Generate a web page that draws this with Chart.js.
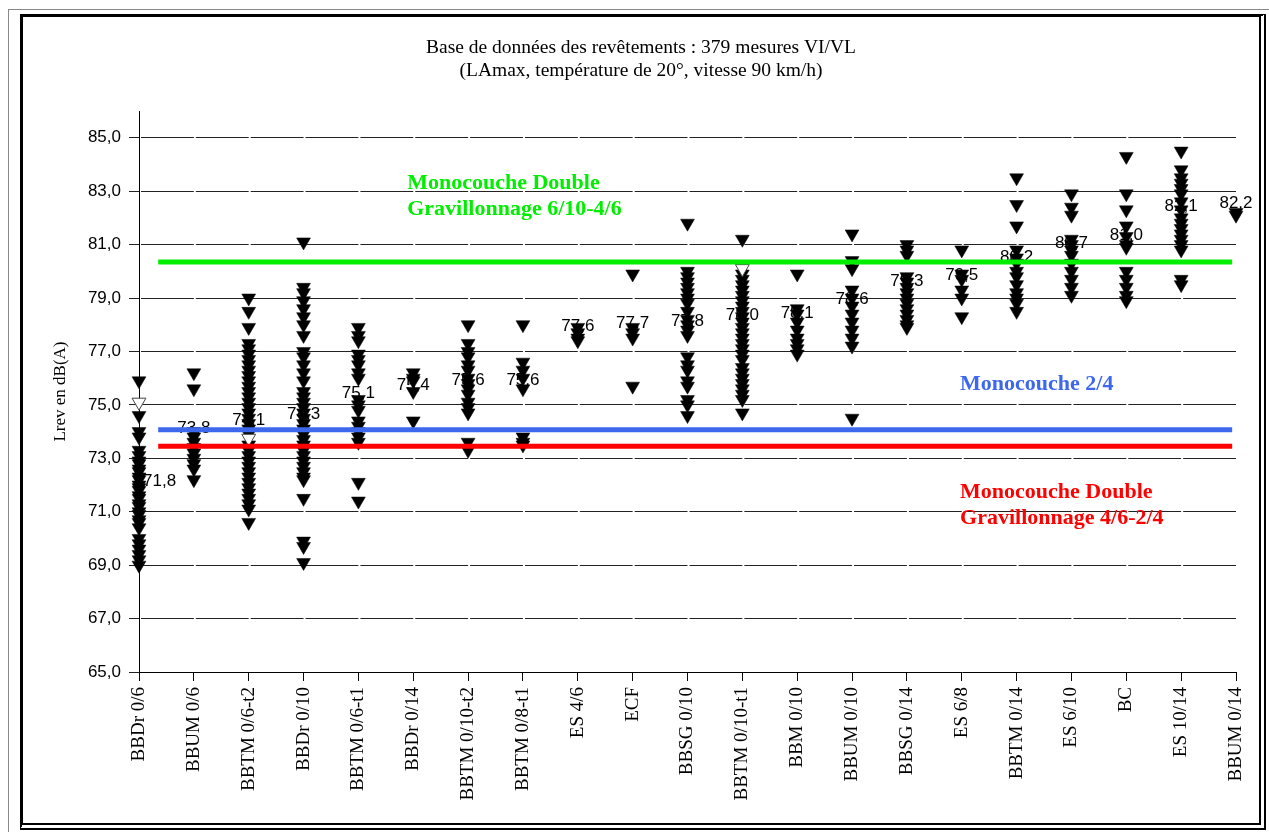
<!DOCTYPE html>
<html>
<head>
<meta charset="utf-8">
<script src="https://cdn.jsdelivr.net/npm/chart.js@4.4.0/dist/chart.umd.min.js"></script>
<style>
  html, body { margin: 0; padding: 0; background: #fff; overflow: hidden; }
  #cadre-ext { position: absolute; left: 8px; top: 9px; width: 1300px; height: 900px; border-left: 1px solid #888; border-top: 1px solid #888; }
  #cadre { position: absolute; left: 20px; top: 14px; width: 1236px; height: 806px; border-top: 3px solid #000; border-left: 3px solid #000; border-right: 7px double #000; border-bottom: 7px double #000; background: #fff; }
  #graphique { position: absolute; left: 0; top: 0; }
</style>
</head>
<body>
<div id="cadre-ext"></div>
<div id="cadre"></div>
<canvas id="graphique" width="1269" height="832"></canvas>
<script>
// revêtements (axe des x)
const categories = ["BBDr 0/6", "BBUM 0/6", "BBTM 0/6-t2", "BBDr 0/10", "BBTM 0/6-t1", "BBDr 0/14",
    "BBTM 0/10-t2", "BBTM 0/8-t1", "ES 4/6", "ECF", "BBSG 0/10", "BBTM 0/10-t1", "BBM 0/10",
    "BBUM 0/10", "BBSG 0/14", "ES 6/8", "BBTM 0/14", "ES 6/10", "BC", "ES 10/14", "BBUM 0/14"];

// mesures Lrev en dB(A), une liste par revêtement
const mesures = [
    [75.9, 74.6, 74.0, 73.8, 73.3, 73.1, 72.9, 72.8, 72.6, 72.5, 72.3, 72.2, 72.0, 71.9, 71.8, 71.6, 71.5, 71.3, 71.2, 71.0, 70.9, 70.7, 70.6, 70.4, 70.0, 69.8, 69.6, 69.4, 69.2, 69.0],
    [76.2, 75.6, 74.0, 73.8, 73.6, 73.4, 73.2, 73.0, 72.8, 72.6, 72.2],
    [79.0, 78.5, 77.9, 77.3, 77.1, 76.9, 76.7, 76.5, 76.3, 76.1, 75.9, 75.7, 75.5, 75.3, 75.1, 74.9, 74.7, 74.5, 74.3, 74.1, 73.9, 73.5, 73.3, 73.1, 72.9, 72.7, 72.5, 72.3, 72.1, 71.9, 71.7, 71.5, 71.3, 71.1, 70.6],
    [81.1, 79.4, 79.2, 78.9, 78.6, 78.3, 78.0, 77.6, 77.0, 76.8, 76.5, 76.2, 75.9, 75.5, 75.3, 75.1, 74.9, 74.7, 74.5, 74.3, 74.1, 73.9, 73.7, 73.5, 73.3, 73.1, 72.9, 72.7, 72.5, 72.3, 72.2, 71.5, 69.9, 69.7, 69.1],
    [77.9, 77.6, 77.4, 76.9, 76.7, 76.5, 76.2, 76.0, 75.2, 75.0, 74.8, 74.4, 74.2, 74.0, 73.8, 73.6, 72.1, 71.4],
    [76.2, 76.0, 75.9, 75.5, 74.4],
    [78.0, 77.3, 77.0, 76.8, 76.5, 76.3, 76.0, 75.8, 75.6, 75.4, 75.1, 74.9, 74.7, 73.6, 73.3],
    [78.0, 76.6, 76.3, 76.0, 75.6, 73.8, 73.6, 73.5],
    [77.9, 77.7, 77.5, 77.4],
    [79.9, 77.9, 77.7, 77.5, 75.7],
    [81.8, 80.0, 79.8, 79.6, 79.4, 79.2, 79.0, 78.8, 78.5, 78.2, 78.0, 77.8, 77.6, 76.8, 76.5, 76.3, 75.9, 75.7, 75.2, 75.0, 74.6],
    [81.2, 79.9, 79.7, 79.5, 79.3, 79.1, 78.9, 78.7, 78.5, 78.3, 78.1, 77.9, 77.7, 77.5, 77.3, 77.1, 76.9, 76.7, 76.4, 76.2, 76.0, 75.8, 75.6, 75.4, 75.2, 74.7],
    [79.9, 78.6, 78.4, 78.1, 77.8, 77.5, 77.3, 77.1, 76.9],
    [81.4, 80.4, 80.1, 79.3, 79.0, 78.7, 78.4, 78.1, 77.8, 77.5, 77.2, 74.5],
    [81.0, 80.8, 80.6, 79.8, 79.6, 79.4, 79.2, 79.0, 78.8, 78.6, 78.4, 78.2, 78.0, 77.9],
    [80.8, 79.9, 79.7, 79.3, 79.0, 78.3],
    [83.5, 82.5, 81.7, 80.8, 80.5, 80.3, 80.0, 79.8, 79.5, 79.2, 79.0, 78.8, 78.5],
    [82.9, 82.4, 82.1, 81.2, 81.0, 80.8, 80.6, 80.3, 80.0, 79.7, 79.4, 79.1],
    [84.3, 82.9, 82.3, 81.7, 81.3, 81.0, 80.9, 80.0, 79.7, 79.4, 79.1, 78.9],
    [84.5, 83.8, 83.5, 83.3, 83.1, 82.9, 82.6, 82.3, 82.0, 81.8, 81.6, 81.4, 81.2, 81.0, 80.8, 79.7, 79.5],
    [82.2, 82.1]
];

// points en triangle blanc : [indice du revêtement, valeur]
const mesuresOuvertes = [[0, 75.1], [2, 73.75], [11, 80.1]];

// moyennes affichées au-dessus des colonnes
const moyennes = [71.8, 73.8, 74.1, 74.3, 75.1, 75.4, 75.6, 75.6, 77.6, 77.7, 77.8, 78.0, 78.1, 78.6, 79.3, 79.5, 80.2, 80.7, 81.0, 82.1, 82.2];

// graduations de l'axe des y
const yTicks = [65, 67, 69, 71, 73, 75, 77, 79, 81, 83, 85];

// niveaux de référence
const refNoms = [["Monocouche Double", "Gravillonnage 6/10-4/6"], ["Monocouche 2/4"], ["Monocouche Double", "Gravillonnage 4/6-2/4"]];
const refValeurs = [80.35, 74.07, 73.45];

const couleursRef = ["#00ee00", "#3d68ee", "#ff0000"];

function virgule(v) {
    return v.toFixed(1).replace(".", ",");
}

const pointsPleins = [];
mesures.forEach((serie, i) => {
    serie.forEach(v => pointsPleins.push({ x: i, y: v }));
});
const pointsOuverts = mesuresOuvertes.map(p => ({ x: p[0], y: p[1] }));

// lignes de référence dessinées au-dessus des points
const datasetsRef = refValeurs.map((v, i) => ({
    type: "line",
    data: [{ x: 0.35, y: v }, { x: 19.93, y: v }],
    borderColor: couleursRef[i],
    borderWidth: 5,
    pointRadius: 0,
    fill: false
}));

const etiquettes = {
    id: "etiquettes",
    beforeDatasetsDraw(chart) {
        const { ctx, scales: { x, y } } = chart;
        ctx.save();
        ctx.font = '17px "Liberation Sans"';
        ctx.fillStyle = "#000";
        ctx.textBaseline = "middle";
        moyennes.forEach((m, i) => {
            const px = x.getPixelForValue(i);
            const py = y.getPixelForValue(m) - 9;
            if (i === 0) {
                ctx.textAlign = "left";
                ctx.fillText(virgule(m), px + 4, py);
            } else {
                ctx.textAlign = "center";
                ctx.fillText(virgule(m), px, py);
            }
        });
        ctx.restore();
    },
    afterDatasetsDraw(chart) {
        const { ctx, scales: { x, y } } = chart;
        ctx.save();
        ctx.font = 'bold 22px "Liberation Serif"';
        ctx.textAlign = "left";
        ctx.textBaseline = "middle";
        // texte vert au-dessus de sa ligne, bleu au-dessus, rouge en dessous
        const places = [{ xi: 4.89, dy: -79 }, { xi: 14.97, dy: -45 }, { xi: 14.97, dy: 46 }];
        refNoms.forEach((lignes, i) => {
            ctx.fillStyle = couleursRef[i];
            const px = x.getPixelForValue(places[i].xi);
            const py = y.getPixelForValue(refValeurs[i]) + places[i].dy;
            lignes.forEach((t, k) => ctx.fillText(t, px, py + k * 26));
        });
        ctx.restore();
    }
};

new Chart(document.getElementById("graphique"), {
    type: "scatter",
    data: {
        datasets: [
            ...datasetsRef,
            {
                data: pointsOuverts,
                pointStyle: "triangle",
                rotation: 180,
                pointRadius: 8,
                backgroundColor: "#fff",
                borderColor: "#444",
                borderWidth: 1,
                clip: false
            },
            {
                data: pointsPleins,
                pointStyle: "triangle",
                rotation: 180,
                pointRadius: 8,
                backgroundColor: "#000",
                borderColor: "#000",
                borderWidth: 0.5,
                clip: false
            }
        ]
    },
    options: {
        responsive: false,
        animation: false,
        layout: { padding: { left: 46, right: 33, top: 0, bottom: 0 } },
        plugins: {
            legend: { display: false },
            tooltip: { enabled: false },
            title: {
                display: true,
                text: ["Base de données des revêtements : 379 mesures VI/VL", "(LAmax, température de 20°, vitesse 90 km/h)"],
                color: "#000",
                font: { family: "Liberation Serif", size: 19.5, weight: "normal", lineHeight: 1.18 },
                padding: { top: 36, bottom: 29 }
            }
        },
        scales: {
            x: {
                type: "linear",
                min: 0,
                max: 20,
                afterFit(scale) {
                    scale.height = 160;
                    scale.paddingLeft = 0;
                    scale.paddingRight = 0;
                },
                ticks: {
                    stepSize: 1,
                    autoSkip: false,
                    maxRotation: 90,
                    minRotation: 90,
                    padding: 6,
                    color: "#000",
                    font: { family: "Liberation Serif", size: 19 },
                    callback: v => categories[v]
                },
                grid: { drawOnChartArea: false, color: "#000", tickLength: 9 },
                border: { color: "#000", width: 1 }
            },
            y: {
                min: 65,
                max: 86,
                afterBuildTicks(scale) {
                    scale.ticks = yTicks.map(v => ({ value: v }));
                },
                afterFit(scale) {
                    scale.width = 139 - 46;
                    scale.paddingTop = 0;
                    scale.paddingBottom = 0;
                },
                ticks: {
                    padding: 8,
                    color: "#000",
                    font: { family: "Liberation Sans", size: 17 },
                    callback: v => virgule(v)
                },
                grid: { color: "#222", lineWidth: 1, tickLength: 10 },
                border: { color: "#000", width: 1, dash: [52.85, 2], dashOffset: -1 },
                title: {
                    display: true,
                    text: "Lrev en dB(A)",
                    color: "#000",
                    font: { family: "Liberation Serif", size: 17 },
                    padding: { top: 4, bottom: 0 }
                }
            }
        }
    },
    plugins: [etiquettes]
});
</script>
</body>
</html>
